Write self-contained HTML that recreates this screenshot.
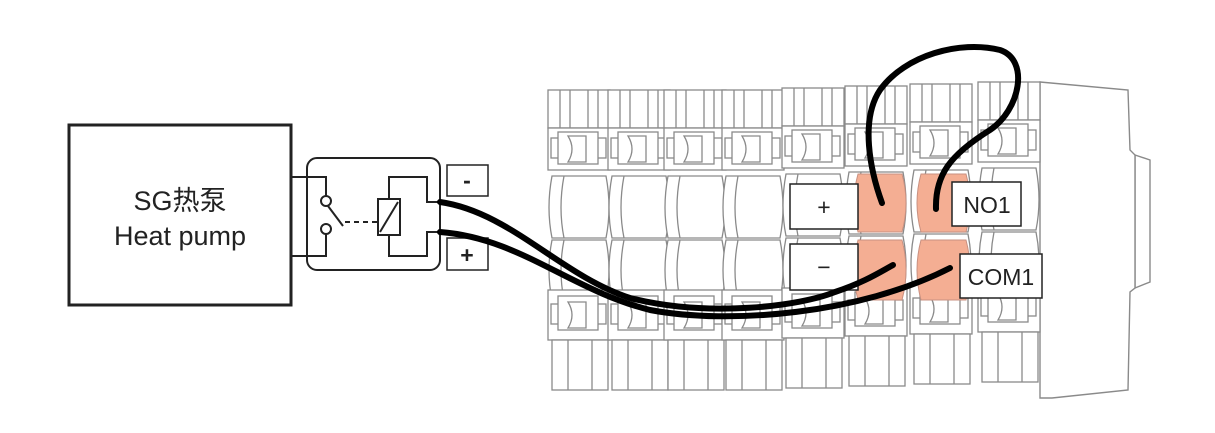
<!DOCTYPE html>
<html><head><meta charset="utf-8"><style>
html,body{margin:0;padding:0;background:#fff;}
svg{display:block}
text{font-family:"Liberation Sans","Noto Sans CJK SC",sans-serif;}
</style></head><body>
<svg width="1215" height="433" viewBox="0 0 1215 433" xmlns="http://www.w3.org/2000/svg">
<defs>
<g id="col" fill="#fff" stroke="#8a8a8a" stroke-width="1.3">
  <rect x="0" y="0" width="62" height="38"/>
  <line x1="12" y1="0" x2="12" y2="38"/><line x1="22" y1="0" x2="22" y2="38"/><line x1="40" y1="0" x2="40" y2="38"/><line x1="50" y1="0" x2="50" y2="38"/>
  <rect x="0" y="38" width="62" height="42"/>
  <rect x="3" y="48" width="14" height="20"/><rect x="44" y="48" width="14" height="20"/>
  <rect x="10" y="42" width="40" height="32"/>
  <path d="M20 46 L38 46 L38 72 L20 72 Q28 59 20 46Z"/>
  <path d="M4 86 Q-2 118 4 148 L58 148 Q64 118 58 86Z"/>
  <path d="M16 86 Q10 118 16 148"/>
  <path d="M4 150 Q-2 180 4 210 L58 210 Q64 180 58 150Z"/>
  <path d="M16 150 Q10 180 16 210"/>
  <rect x="0" y="200" width="62" height="50"/>
  <rect x="3" y="214" width="14" height="20"/><rect x="44" y="214" width="14" height="20"/>
  <rect x="10" y="206" width="40" height="34"/>
  <path d="M20 212 L38 212 L38 238 L20 238 Q28 225 20 212Z"/>
  <rect x="4" y="250" width="56" height="50"/>
  <line x1="20" y1="250" x2="20" y2="300"/><line x1="44" y1="250" x2="44" y2="300"/>
</g>
</defs>
<g fill="#fff" stroke="#8a8a8a" stroke-width="1.4">
  <path d="M1135 155 L1150 160 L1150 282 L1135 288Z"/>
  <path d="M1040 82 L1128 90 L1130 150 L1135 155 L1135 288 L1130 292 L1128 390 L1052 398 L1040 398Z"/>
</g>
<use href="#col" x="548" y="90"/>
<use href="#col" x="608" y="90"/>
<use href="#col" x="664" y="90"/>
<use href="#col" x="722" y="90"/>
<use href="#col" x="782" y="88"/>
<use href="#col" x="845" y="86"/>
<use href="#col" x="910" y="84"/>
<use href="#col" x="978" y="82"/>
<g fill="#f4ae93" stroke="#c89080" stroke-width="1">
  <path d="M858 174 Q850 203 858 232 L902 232 Q910 203 902 174Z"/>
  <path d="M921 174 Q913 203 921 232 L966 232 Q974 203 966 174Z"/>
  <path d="M858 240 Q850 270 858 300 L902 300 Q910 270 902 240Z"/>
  <path d="M921 240 Q913 270 921 300 L966 300 Q974 270 966 240Z"/>
</g>
<g fill="#fff" stroke="#222" stroke-width="1.5">
  <rect x="790" y="184" width="68" height="45"/>
  <rect x="790" y="244" width="68" height="46"/>
  <rect x="952" y="182" width="69" height="44"/>
  <rect x="960" y="254" width="82" height="44"/>
  <rect x="447" y="165" width="41" height="31"/>
  <rect x="447" y="238" width="41" height="32"/>
</g>
<g font-size="23" fill="#222" text-anchor="middle">
  <text x="824" y="215">+</text>
  <text x="824" y="275">−</text>
  <text x="987" y="213">NO1</text>
  <text x="1001" y="285">COM1</text>
  <text x="467" y="188" font-weight="bold">-</text>
  <text x="467" y="263" font-weight="bold">+</text>
</g>
<rect x="69" y="125" width="222" height="180" fill="#fff" stroke="#222" stroke-width="3"/>
<text x="180" y="210" font-size="27" text-anchor="middle" fill="#222">SG热泵</text>
<text x="180" y="245" font-size="27" text-anchor="middle" fill="#222">Heat pump</text>
<g fill="none" stroke="#222" stroke-width="2">
  <rect x="307" y="158" width="133" height="112" rx="10" fill="#fff"/>
  <path d="M291 177 L326 177 L326 196"/>
  <circle cx="326" cy="201" r="5"/>
  <circle cx="326" cy="229" r="5"/>
  <path d="M326 234 L326 256 L291 256"/>
  <path d="M328 206 L343 226"/>
  <path d="M345 222 L378 222" stroke-dasharray="5 4"/>
  <rect x="378" y="199" width="22" height="36"/>
  <path d="M380 232 L398 202"/>
  <path d="M389 199 L389 177 L427 177 L427 202 L440 202"/>
  <path d="M389 235 L389 256 L427 256 L427 232 L440 232"/>
</g>
<g fill="none" stroke="#000" stroke-width="6" stroke-linecap="round">
  <path d="M440 202 C510 212 560 275 630 298 C710 318 800 306 835 292 C865 282 880 272 893 265"/>
  <path d="M440 232 C520 238 570 290 650 310 C730 325 860 314 950 268"/>
  <path d="M882 203 C870 170 860 120 880 90 C905 55 960 40 1000 50 C1030 60 1020 110 990 130 C950 155 935 175 936 209"/>
</g>
</svg>
</body></html>
